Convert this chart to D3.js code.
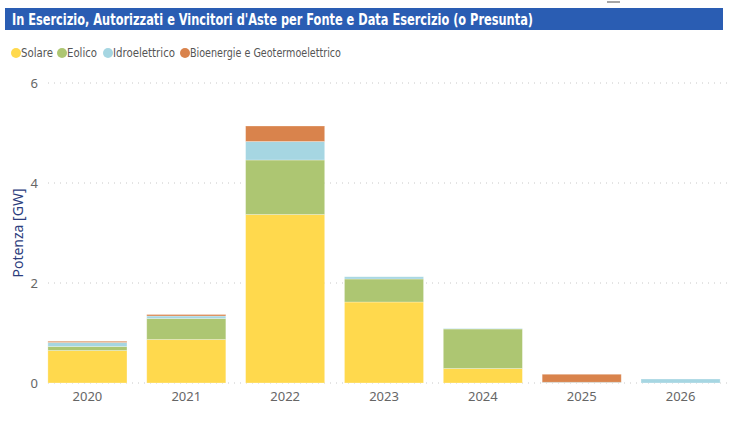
<!DOCTYPE html>
<html>
<head>
<meta charset="utf-8">
<script src="https://cdn.jsdelivr.net/npm/d3@7"></script>
<style>
  body { margin: 0; background: #fff; }
  svg { display: block; }
</style>
</head>
<body>
<div id="chart"></div>
<script>
// data (GW)
const years = ["2020", "2021", "2022", "2023", "2024", "2025", "2026"];
const solare = [0.65, 0.87, 3.37, 1.62, 0.29, 0, 0];
const eolico = [0.08, 0.42, 1.09, 0.46, 0.79, 0, 0];
const idro   = [0.08, 0.05, 0.37, 0.045, 0.01, 0.015, 0.08];
const bio    = [0.025, 0.03, 0.31, 0, 0, 0.16, 0];
const seriesNames = ["Solare", "Eolico", "Idroelettrico", "Bioenergie e Geotermoelettrico"];
const seriesColors = ["#ffd94d", "#adc672", "#a6d6e2", "#d9834c"];
const yTicks = [0, 2, 4, 6];

const width = 734, height = 425;
const condensed = "'DejaVu Sans Condensed', 'Liberation Sans Narrow', sans-serif";
const uiFont = "'Noto Sans', 'Open Sans', sans-serif";

const svg = d3.select("#chart").append("svg")
  .attr("width", width)
  .attr("height", height);

// title bar
svg.append("rect")
  .attr("x", 5).attr("y", 8)
  .attr("width", 718).attr("height", 22)
  .attr("fill", "#2a5db3");
svg.append("text")
  .attr("x", 12).attr("y", 25)
  .attr("fill", "#fff")
  .attr("font-family", condensed)
  .attr("font-stretch", "condensed")
  .attr("font-weight", "bold")
  .attr("font-size", 15)
  .attr("textLength", 521)
  .attr("lengthAdjust", "spacingAndGlyphs")
  .text("In Esercizio, Autorizzati e Vincitori d'Aste per Fonte e Data Esercizio (o Presunta)");

// small artefact line top right
svg.append("line")
  .attr("x1", 607).attr("x2", 620).attr("y1", 2).attr("y2", 2)
  .attr("stroke", "#888").attr("stroke-width", 1.5);

// legend
const legendX = [16, 62, 108, 185];
const legendW = [32, 30, 62, 151];
const legend = svg.append("g").attr("class", "legend");
seriesNames.forEach((name, i) => {
  const g = legend.append("g").attr("transform", `translate(${legendX[i]},53)`);
  g.append("circle").attr("r", 5).attr("fill", seriesColors[i]);
  g.append("text")
    .attr("x", 5).attr("y", 4)
    .attr("fill", "#555")
    .attr("font-family", condensed)
    .attr("font-stretch", "condensed")
    .attr("font-size", 11.5)
    .attr("textLength", legendW[i])
    .attr("lengthAdjust", "spacingAndGlyphs")
    .text(name);
});

// scales
const x = d3.scaleBand().domain(years).range([38, 730]).paddingInner(0.2).paddingOuter(0.1);
const y = d3.scaleLinear().domain([0, 6]).range([383, 83]);

// gridlines
svg.append("g")
  .selectAll("line")
  .data(yTicks)
  .join("line")
  .attr("x1", 48).attr("x2", 730)
  .attr("y1", d => y(d)).attr("y2", d => y(d))
  .attr("stroke", "#c8c8c8")
  .attr("stroke-dasharray", "1,5");

// y axis
const yAxis = svg.append("g")
  .attr("transform", "translate(38,0)")
  .call(d3.axisLeft(y).tickValues(yTicks).tickFormat(d3.format("d")).tickSize(0).tickPadding(0));
yAxis.select(".domain").remove();
yAxis.selectAll("text")
  .attr("fill", "#666")
  .attr("font-family", uiFont)
  .attr("font-size", 13);

svg.append("text")
  .attr("transform", "translate(23,233) rotate(-90)")
  .attr("text-anchor", "middle")
  .attr("fill", "#2c3d7d")
  .attr("font-family", uiFont)
  .attr("font-size", 14)
  .text("Potenza [GW]");

// stacked bars
const table = years.map((yr, i) => ({
  year: yr,
  Solare: solare[i],
  Eolico: eolico[i],
  Idroelettrico: idro[i],
  "Bioenergie e Geotermoelettrico": bio[i]
}));
const stack = d3.stack().keys(seriesNames)(table);
const color = d3.scaleOrdinal().domain(seriesNames).range(seriesColors);

svg.append("g")
  .selectAll("g")
  .data(stack)
  .join("g")
  .attr("fill", d => color(d.key))
  .selectAll("rect")
  .data(d => d.filter(p => p[1] - p[0] > 0))
  .join("rect")
  .attr("x", d => x(d.data.year))
  .attr("y", d => y(d[1]))
  .attr("width", x.bandwidth())
  .attr("height", d => y(d[0]) - y(d[1]))
  .attr("stroke", "rgba(255,255,255,0.35)")
  .attr("stroke-width", 0.8);

// x axis
const xAxis = svg.append("g")
  .attr("transform", "translate(0,383)")
  .call(d3.axisBottom(x).tickSize(0).tickPadding(9));
xAxis.select(".domain").remove();
xAxis.selectAll("text")
  .attr("fill", "#666")
  .attr("font-family", uiFont)
  .attr("font-size", 13);
</script>
</body>
</html>
